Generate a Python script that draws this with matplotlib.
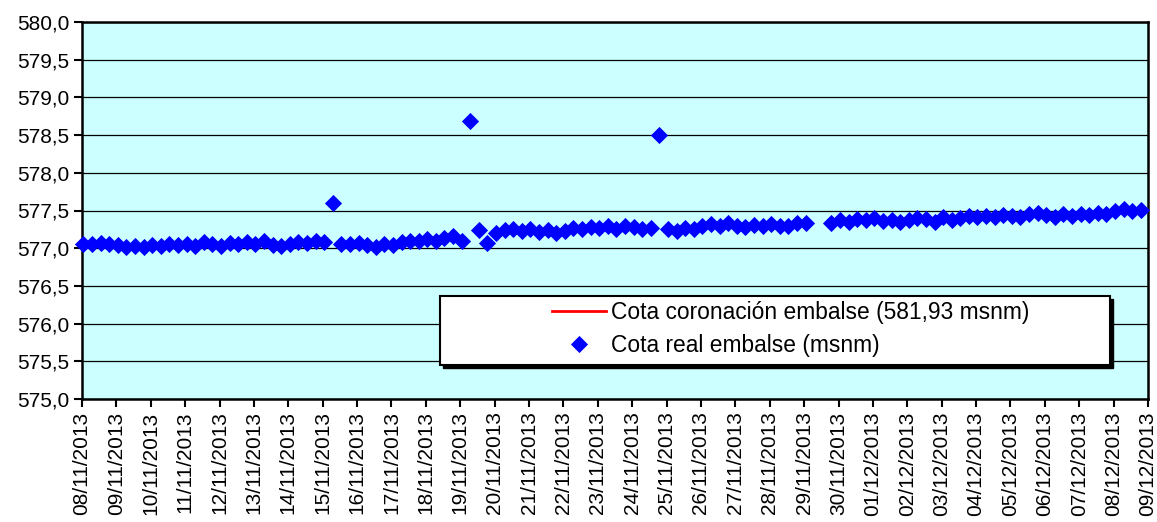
import matplotlib
matplotlib.use("Agg")
import matplotlib.pyplot as plt
import matplotlib.dates as mdates
from matplotlib.patches import Rectangle
import numpy as np
import datetime as dt

plt.rcParams['font.family'] = ['Liberation Sans', 'DejaVu Sans']

start = dt.datetime(2013, 11, 8)
end = dt.datetime(2013, 12, 9)

# readings every 6 hours (4 per day), from 08/11/2013 00:00
cota_real = [
    577.06, 577.05, 577.07, 577.05,   # 08/11
    577.04, 577.02, 577.03, 577.01,   # 09/11
    577.04, 577.03, 577.05, 577.04,   # 10/11
    577.06, 577.03, 577.08, 577.05,   # 11/11
    577.03, 577.07, 577.06, 577.08,   # 12/11
    577.06, 577.09, 577.04, 577.03,   # 13/11
    577.06, 577.08, 577.07, 577.09,   # 14/11
    577.08, 577.60, 577.06, 577.05,   # 15/11
    577.07, 577.04, 577.02, 577.05,   # 16/11
    577.04, 577.08, 577.09, 577.10,   # 17/11
    577.12, 577.10, 577.14, 577.16,   # 18/11
    577.10, 578.69, 577.24, 577.07,   # 19/11
    577.20, 577.24, 577.26, 577.23,   # 20/11
    577.25, 577.22, 577.24, 577.20,   # 21/11
    577.23, 577.27, 577.25, 577.28,   # 22/11
    577.27, 577.29, 577.26, 577.30,   # 23/11
    577.28, 577.26, 577.27, 578.50,   # 24/11
    577.25, 577.23, 577.27, 577.26,   # 25/11
    577.29, 577.32, 577.30, 577.33,   # 26/11
    577.30, 577.28, 577.31, 577.29,   # 27/11
    577.32, 577.30, 577.29, 577.34,   # 28/11
    577.33, np.nan, np.nan, 577.34,   # 29/11
    577.38, 577.35, 577.39, 577.37,   # 30/11
    577.40, 577.36, 577.38, 577.35,   # 01/12
    577.37, 577.40, 577.39, 577.35,   # 02/12
    577.41, 577.38, 577.40, 577.43,   # 03/12
    577.41, 577.43, 577.42, 577.44,   # 04/12
    577.43, 577.41, 577.45, 577.47,   # 05/12
    577.44, 577.42, 577.45, 577.43,   # 06/12
    577.46, 577.44, 577.47, 577.46,   # 07/12
    577.49, 577.52, 577.50, 577.51,   # 08/12
]
cota_coronacion = 581.93

label_coronacion = "Cota coronación embalse (581,93 msnm)"
label_real = "Cota real embalse (msnm)"

times = [start + dt.timedelta(hours=6 * i, minutes=60) for i in range(len(cota_real))]

fig = plt.figure(figsize=(11.57, 5.22), dpi=100)
ax = fig.add_axes([82 / 1157, 1 - 399 / 522, (1148 - 82) / 1157, (399 - 22) / 522])
ax.set_facecolor('#CCFFFF')

ax.plot([start, end], [cota_coronacion, cota_coronacion], color='red', lw=2,
        label=label_coronacion, zorder=3)
ax.plot(times, cota_real, linestyle='none', marker='D', ms=8, mew=0.6, color='#0000FF',
        mec='#0000FF', label=label_real, zorder=4, clip_on=False)

ax.set_xlim(start, end)
ax.set_ylim(575.0, 580.0)
ax.set_yticks(np.arange(575.0, 580.01, 0.5))
ax.set_yticklabels([f"{v:.1f}".replace('.', ',') for v in np.arange(575.0, 580.01, 0.5)])
ax.grid(axis='y', color='black', lw=0.9, zorder=1)
ax.set_axisbelow(True)

ax.xaxis.set_major_locator(mdates.DayLocator())
ax.xaxis.set_major_formatter(mdates.DateFormatter('%d/%m/%Y'))
plt.setp(ax.get_xticklabels(), rotation=90)

ax.tick_params(axis='both', direction='out', length=6, width=1.5, labelsize=15,
               colors='black')
ax.tick_params(axis='y', pad=3)
ax.tick_params(axis='x', pad=3)
for s in ax.spines.values():
    s.set_color('black')
    s.set_linewidth(1.8)

# legend box with shadow
bx0, bx1 = (440 - 82) / 1066, (1110 - 82) / 1066
by0, by1 = (399 - 365) / 377, (399 - 296) / 377
shadow = Rectangle((bx0 + 3 / 1066, by0 - 3 / 377), bx1 - bx0, by1 - by0,
                   transform=ax.transAxes, facecolor='black', edgecolor='black',
                   lw=1, zorder=5)
box = Rectangle((bx0, by0), bx1 - bx0, by1 - by0, transform=ax.transAxes,
                facecolor='white', edgecolor='black', lw=1.5, zorder=6)
ax.add_patch(shadow)
ax.add_patch(box)
leg = ax.legend(loc='center', bbox_to_anchor=((791 - 82) / 1066, (399 - 329) / 377),
                frameon=False, fontsize=16.4, handlelength=2.37, handletextpad=0.22,
                labelspacing=0.46, borderaxespad=0)
leg.set_zorder(7)

fig.savefig('out.png', dpi=100, facecolor='white')
